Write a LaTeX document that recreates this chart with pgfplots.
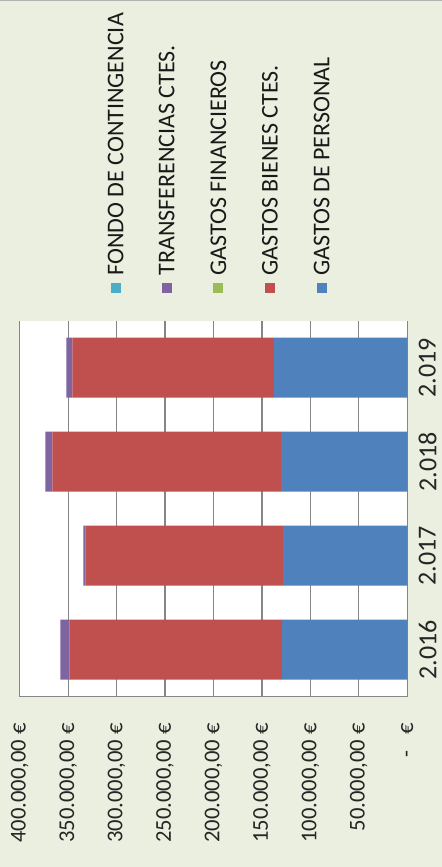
\documentclass[border=0pt]{standalone}
\usepackage{pgfplots}
\pgfplotsset{compat=1.18}
\usepackage{fontspec}
\setmainfont{Carlito}
\definecolor{bg}{RGB}{235,239,223}
\definecolor{cBlue}{RGB}{79,129,189}
\definecolor{cRed}{RGB}{192,80,77}
\definecolor{cGreen}{RGB}{155,187,89}
\definecolor{cPurple}{RGB}{128,100,162}
\definecolor{cCyan}{RGB}{75,172,198}
\definecolor{gridc}{RGB}{134,134,134}
\begin{document}
\begin{tikzpicture}
\path[use as bounding box, fill=bg] (0,0) rectangle (221pt,433.5pt);
\draw[gray!60, line width=0.8pt] (0,433.3pt) -- (221pt,433.3pt);
\begin{axis}[
  at={(9.85pt,85.15pt)}, anchor=south west,
  scale only axis, width=193.8pt, height=188pt,
  xbar stacked, bar width=30pt,
  x dir=reverse,
  xmin=0, xmax=400000,
  ymin=-0.5, ymax=3.5,
  scaled x ticks=false,
  ytick={0,1,2,3},
  yticklabels={2.016,2.017,2.018,2.019},
  xtick={0,50000,100000,150000,200000,250000,300000,350000,400000},
  xticklabels={{-\hspace{0.7em}€},{50.000,00 €},{100.000,00 €},{150.000,00 €},{200.000,00 €},{250.000,00 €},{300.000,00 €},{350.000,00 €},{400.000,00 €}},
  axis background/.style={fill=white},
  axis line style={draw=none},
  major tick style={draw=none},
  xmajorgrids, grid style={gridc, line width=0.6pt},
  yticklabel pos=upper,
  xticklabel style={rotate=90, anchor=east, inner sep=0pt, font=\fontsize{11.3}{13}\selectfont, text=black!85},
  xticklabel shift=13pt,
  yticklabel style={rotate=90, anchor=north, inner sep=0pt, font=\fontsize{13}{15}\selectfont, text=black!85},
  yticklabel shift=5.5pt,
  clip=false,
]
\addplot[fill=cBlue, draw=none] coordinates {(129200,0) (128100,1) (130200,2) (137400,3)};
\addplot[fill=cRed, draw=none] coordinates {(219600,0) (203900,1) (236100,2) (208300,3)};
\addplot[fill=cGreen, draw=none] coordinates {(0,0) (0,1) (0,2) (0,3)};
\addplot[fill=cPurple, draw=none] coordinates {(9200,0) (2300,1) (7200,2) (6200,3)};
\addplot[fill=cCyan, draw=none] coordinates {(0,0) (0,1) (0,2) (0,3)};
\draw[gridc, line width=0.6pt] (axis cs:0,-0.5) -- (axis cs:0,3.5);
\draw[gridc, line width=0.6pt] (axis cs:0,-0.5) -- (axis cs:400000,-0.5);
\end{axis}
% legend
\begin{scope}[every node/.style={rotate=90, anchor=west, inner sep=0pt, font=\fontsize{12}{14}\selectfont, text=black!90}]
\fill[cCyan]   (55.35pt,287pt) rectangle (60.35pt,292pt);
\node at (57.85pt,295.5pt) {FONDO DE CONTINGENCIA};
\fill[cPurple] (80.85pt,287pt) rectangle (85.85pt,292pt);
\node at (83.35pt,295.5pt) {TRANSFERENCIAS CTES.};
\fill[cGreen]  (106.65pt,287pt) rectangle (111.65pt,292pt);
\node at (109.15pt,295.5pt) {GASTOS FINANCIEROS};
\fill[cRed]    (132.5pt,287pt) rectangle (137.5pt,292pt);
\node at (135pt,295.5pt) {GASTOS BIENES CTES.};
\fill[cBlue]   (158.35pt,287pt) rectangle (163.35pt,292pt);
\node at (160.85pt,295.5pt) {GASTOS DE PERSONAL};
\end{scope}
\end{tikzpicture}
\end{document}
